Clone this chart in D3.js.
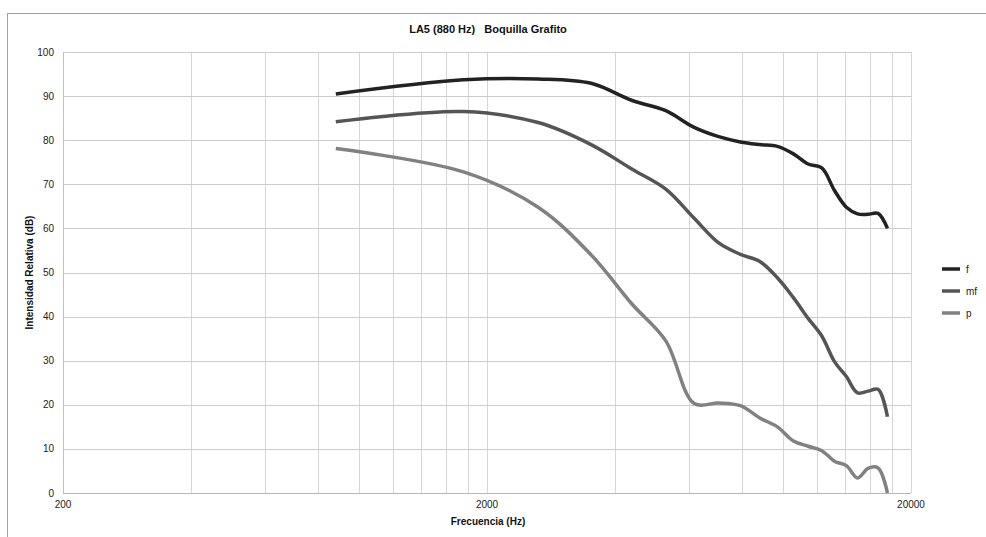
<!DOCTYPE html>
<html>
<head>
<meta charset="utf-8">
<script src="https://cdn.jsdelivr.net/npm/d3@7"></script>
<style>
  html, body { margin: 0; padding: 0; background: #fff; }
  svg { display: block; font-family: "Liberation Sans", Arial, Helvetica, sans-serif; }
</style>
</head>
<body>
<svg id="chart" width="986" height="537"></svg>
<script>
// Harmonic numbers of the A5 note (880 Hz fundamental)
const fundamental = 880;
const harmonics = d3.range(1, 21);

// Relative intensity (dB) of each harmonic for the three dynamics
const seriesF  = [90.5, 93.7, 93.9, 92.9, 89.0, 86.7, 82.9, 80.8, 79.6, 79.0,
                  78.6, 76.9, 74.6, 73.7, 68.6, 64.8, 63.3, 63.2, 63.4, 60.0];
const seriesMf = [84.2, 86.5, 84.0, 79.0, 73.4, 68.9, 62.3, 56.7, 54.1, 52.5,
                  48.8, 44.3, 39.6, 35.6, 29.8, 26.4, 22.7, 23.1, 23.5, 17.3];
const seriesP  = [78.1, 72.8, 64.8, 54.0, 42.8, 34.5, 20.3, 20.4, 19.8, 17.0,
                  15.0, 11.8, 10.6,  9.6,  7.2,  6.2,  3.4,  5.6,  5.7,  0.0];

const seriesNames = ["f", "mf", "p"];
const seriesColors = ["#222222", "#555555", "#818181"];

const xTickLabels = [200, 2000, 20000];
const yTicks = d3.range(0, 101, 10);
// Minor frequency grid: 200..2000 by 200, 2000..20000 by 2000
const xGrid = d3.range(200, 2001, 200).concat(d3.range(4000, 20001, 2000));

const svg = d3.select("#chart");
const margin = { left: 63, right: 986 - 911, top: 52, bottom: 537 - 493 };

const x = d3.scaleLog().domain([200, 20000]).range([margin.left, 911]);
const y = d3.scaleLinear().domain([0, 100]).range([493, 52]);

// Outer frame (top and left edges visible)
svg.append("rect")
  .attr("x", 7.5).attr("y", 13.5)
  .attr("width", 1200).attr("height", 1000)
  .attr("fill", "none").attr("stroke", "#a0a0a0").attr("stroke-width", 1);

// Title
svg.append("text")
  .attr("x", 488).attr("y", 33)
  .attr("text-anchor", "middle")
  .attr("font-size", 11).attr("font-weight", "bold").attr("fill", "#111")
  .style("white-space", "pre")
  .text("LA5 (880 Hz)   Boquilla Grafito");

// Vertical grid
svg.append("g").selectAll("line").data(xGrid).join("line")
  .attr("x1", d => Math.round(x(d)) + 0.5).attr("x2", d => Math.round(x(d)) + 0.5)
  .attr("y1", y(100)).attr("y2", y(0))
  .attr("stroke", "#d6d6d6").attr("stroke-width", 1);

// Horizontal grid
svg.append("g").selectAll("line").data(yTicks).join("line")
  .attr("x1", x(200)).attr("x2", x(20000))
  .attr("y1", d => Math.round(y(d)) + 0.5).attr("y2", d => Math.round(y(d)) + 0.5)
  .attr("stroke", d => d === 0 ? "#b8b8b8" : "#cccccc").attr("stroke-width", 1);

// Y axis line
svg.append("line")
  .attr("x1", Math.round(x(200)) + 0.5).attr("x2", Math.round(x(200)) + 0.5)
  .attr("y1", y(100)).attr("y2", y(0))
  .attr("stroke", "#c0c0c0");

// Y tick labels
svg.append("g").selectAll("text").data(yTicks).join("text")
  .attr("x", 54).attr("y", d => y(d) + 3.5)
  .attr("text-anchor", "end")
  .attr("font-size", 10).attr("fill", "#222")
  .text(d => d);

// X tick labels
svg.append("g").selectAll("text").data(xTickLabels).join("text")
  .attr("x", d => x(d)).attr("y", 508)
  .attr("text-anchor", "middle")
  .attr("font-size", 10).attr("fill", "#222")
  .text(d => d);

// Axis titles
svg.append("text")
  .attr("x", 488).attr("y", 525)
  .attr("text-anchor", "middle")
  .attr("font-size", 10).attr("font-weight", "bold").attr("fill", "#111")
  .text("Frecuencia (Hz)");

svg.append("text")
  .attr("transform", `translate(33, ${(y(0) + y(100)) / 2}) rotate(-90)`)
  .attr("text-anchor", "middle")
  .attr("font-size", 10).attr("font-weight", "bold").attr("fill", "#111")
  .text("Intensidad Relativa (dB)");

// Curves
const allSeries = [seriesF, seriesMf, seriesP];
const line = d3.line()
  .x((d, i) => x(fundamental * harmonics[i]))
  .y(d => y(d))
  .curve(d3.curveCatmullRom.alpha(0.5));

svg.append("g").selectAll("path").data(allSeries).join("path")
  .attr("d", d => line(d))
  .attr("fill", "none")
  .attr("stroke", (d, i) => seriesColors[i])
  .attr("stroke-width", 3.5)
  .attr("stroke-linejoin", "round");

// Legend
const legend = svg.append("g").selectAll("g").data(seriesNames).join("g")
  .attr("transform", (d, i) => `translate(942, ${269 + i * 22})`);
legend.append("line")
  .attr("x1", 0).attr("x2", 18).attr("y1", 0).attr("y2", 0)
  .attr("stroke", (d, i) => seriesColors[i]).attr("stroke-width", 3.5);
legend.append("text")
  .attr("x", 24).attr("y", 3.5)
  .attr("font-size", 10).attr("fill", "#222")
  .text(d => d);
</script>
</body>
</html>
